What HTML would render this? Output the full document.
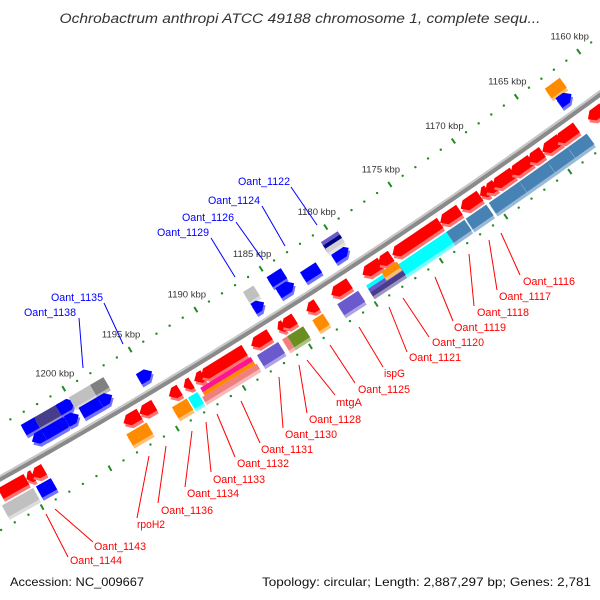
<!DOCTYPE html>
<html><head><meta charset="utf-8"><style>
html,body{margin:0;padding:0;background:#fff;width:600px;height:600px;overflow:hidden}
svg text{font-family:"Liberation Sans","DejaVu Sans",sans-serif}
</style></head><body>
<svg id="map" width="600" height="600" viewBox="0 0 600 600" xmlns="http://www.w3.org/2000/svg">
<text x="300" y="23" text-anchor="middle" font-size="13.5" font-style="italic" fill="#333" textLength="481" lengthAdjust="spacingAndGlyphs">Ochrobactrum anthropi ATCC 49188 chromosome 1, complete sequ...</text>
<g id="dots"></g>
<g id="bb"></g>
<g id="feat"></g>
<g id="lbl"></g>
<text x="10" y="586" font-size="12" fill="#111" textLength="134" lengthAdjust="spacingAndGlyphs">Accession: NC_009667</text>
<text x="591" y="586" text-anchor="end" font-size="12" fill="#111" textLength="329" lengthAdjust="spacingAndGlyphs">Topology: circular; Length: 2,887,297 bp; Genes: 2,781</text>
</svg>
<script>
// ---- data ----
const tickKbp = [1160,1165,1170,1175,1180,1185,1190,1195,1200];
const featStart = [1203.6,1202.6,1201.0,1200.0,1198.4,1186.8,1185.0,1163.2,
  1203.5,1202.6,1200.9,1199.8,1198.4,1195.5,1186.8,1184.9,1183.0,1180.7,1163.0,
  1206.9,1205.0,1204.6,1197.8,1196.6,1194.4,1193.3,1192.5,1192.0,1188.2,1186.2,1185.9,1184.0,1182.1,1179.7,1178.5,1177.4,1173.7,1172.1,1170.6,1170.2,1169.6,1168.2,1166.8,1165.7,1164.6,1162.1,
  1207.2,1204.7,1198.0,1194.6,1193.4,1188.2,1186.3,1185.9,1184.0,1182.1,1177.4,1173.7,1172.2,1170.4,1168.0,1165.8,1164.2,1160.8];
const featEnd = [1202.5,1200.7,1199.8,1198.3,1197.4,1186.0,1183.9,1162.0,
  1202.4,1200.6,1200.0,1198.3,1197.5,1194.5,1186.0,1183.7,1181.8,1179.5,1162.0,
  1205.0,1204.5,1203.7,1196.6,1195.5,1193.6,1192.7,1191.8,1188.7,1186.8,1185.7,1184.9,1183.2,1180.7,1178.3,1177.5,1173.7,1172.2,1170.6,1170.0,1169.4,1168.0,1166.6,1165.7,1164.3,1163.0,1160.9,
  1204.9,1203.6,1196.5,1193.5,1192.7,1186.6,1185.5,1184.7,1183.2,1180.5,1173.5,1172.3,1170.6,1168.0,1165.5,1164.2,1162.7,1159.8];
const featLane = ['uo','uo','uo','uo','uo','uo','uo','uo',
  'ui','ui','ui','ui','ui','ui','ui','ui','ui','ui','ui',
  'li','li','li','li','li','li','li','li','li','li','li','li','li','li','li','li','li','li','li','li','li','li','li','li','li','li','li',
  'lo','lo','lo','lo','lo','lo','lo','lo','lo','lo','lo','lo','lo','lo','lo','lo','lo','lo'];
const featColor = ['#0000ff','#483d8b','#0000ff','#c0c0c0','#808080','#c0c0c0','#0000ff','#ff8c00',
  '#0000ff','#0000ff','#0000ff','#0000ff','#0000ff','#0000ff','#0000ff','#0000ff','#0000ff','#0000ff','#0000ff',
  '#ff0000','#ff0000','#ff0000','#ff0000','#ff0000','#ff0000','#ff0000','#ff0000','#ff0000','#ff0000','#ff0000','#ff0000','#ff0000','#ff0000','#ff0000','#ff0000','#ff0000','#ff0000','#ff0000','#ff0000','#ff0000','#ff0000','#ff0000','#ff0000','#ff0000','#ff0000','#ff0000',
  '#c0c0c0','#0000ff','#ff8c00','#ff8c00','#00ffff','#6a5acd','#f08080','#6b8e23','#ff8c00','#6a5acd','#00ffff','#4682b4','#4682b4','#4682b4','#4682b4','#4682b4','#4682b4','#000080'];
const featDir = [0,0,1,0,0,0,0,0,
  -1,1,1,0,1,1,1,1,0,1,1,
  0,-1,-1,-1,-1,-1,-1,-1,-1,-1,-1,-1,-1,-1,-1,-1,-1,-1,-1,-1,-1,-1,-1,-1,-1,-1,-1,
  0,0,0,0,0,0,0,0,0,0,0,0,0,0,0,0,0,0];
// stacked multi-colour features
const stackStart = [1180.8,1180.8,1180.8,1179.9,1179.9,1179.9,1192.4,1192.4,1192.6,1178.6];
const stackEnd   = [1179.5,1179.5,1179.5,1177.4,1177.4,1177.4,1188.6,1188.6,1188.5,1177.4];
const stackR0    = [5764,5768,5772,5825,5829,5833,5823,5828,5832,5822];
const stackR1    = [5768,5772,5777,5829,5833,5838,5828,5832,5838,5829];
const stackColor = ['#6a5acd','#000080','#d0d0d0','#00ffff','#6a5acd','#483d8b','#ff1493','#ff8c00','#f08080','#ff8c00'];
// ---- geometry ----
const CX=-2826, CY=-4587, R0=5800;
const laneR = {uo:[5764,5776], ui:[5778,5790], li:[5808,5820], lo:[5825,5838]};
function phi(k){ return (58.32 + (k-1190)*0.1533)*Math.PI/180; }
function pt(k,r){ const a=phi(k); return [CX+r*Math.cos(a), CY+r*Math.sin(a)]; }
const NS='http://www.w3.org/2000/svg';
function mk(tag){ return document.createElementNS(NS,tag); }
function P(arr){ return arr.map(p=>p[0].toFixed(1)+','+p[1].toFixed(1)).join(' '); }
function shade(hex){ const n=parseInt(hex.slice(1),16); let r=n>>16,g=(n>>8)&255,b=n&255;
  r=Math.round(r+(255-r)*0.45); g=Math.round(g+(255-g)*0.45); b=Math.round(b+(255-b)*0.45); return `rgb(${r},${g},${b})`; }
// ruler dots
const dg=document.getElementById('dots');
[5754,5846].forEach(r=>{
  for(let k=1157;k<=1209;k++){
    if(k%5===0){
      const a=pt(k,r-3), b=pt(k,r+3);
      const l=mk('line'); l.setAttribute('x1',a[0]);l.setAttribute('y1',a[1]);l.setAttribute('x2',b[0]);l.setAttribute('y2',b[1]);
      l.setAttribute('stroke','#228b22');l.setAttribute('stroke-width','2');
      
      
      dg.appendChild(l);
    } else {
      const c=pt(k,r); const e=mk('circle'); e.setAttribute('cx',c[0]);e.setAttribute('cy',c[1]);e.setAttribute('r','1.2');e.setAttribute('fill','#228b22');
      
      
      dg.appendChild(e);
    }
  }
});
tickKbp.forEach(k=>{
  const c=pt(k,5754); const t=mk('text');
  t.setAttribute('x',c[0]-9);t.setAttribute('y',c[1]-12);t.setAttribute('text-anchor','middle');
  t.setAttribute('font-size','9.5');t.setAttribute('fill','#333');
  
  
  t.textContent=k+' kbp'; dg.appendChild(t);
});
// backbone
const bb=document.getElementById('bb');
function arc(r,w,col){ const pts=[]; for(let k=1212;k>=1154;k-=0.5) pts.push(pt(k,r));
  const pl=mk('polyline'); pl.setAttribute('points',P(pts)); pl.setAttribute('fill','none'); pl.setAttribute('stroke',col); pl.setAttribute('stroke-width',w);
  
  
  bb.appendChild(pl); }
arc(R0+0.5,6,'#8a8a8a'); arc(R0-1.5,2,'#c8c8c8');
// features
const fg=document.getElementById('feat');
function shape(k1,k2,r0,r1,dir){
  const hk=Math.min(0.4,(k1-k2)*0.6), rm=(r0+r1)/2;
  if(dir===1) return [pt(k1,r0),pt(k2+hk,r0),pt(k2,rm),pt(k2+hk,r1),pt(k1,r1)];
  if(dir===-1) return [pt(k2,r0),pt(k1-hk,r0),pt(k1,rm),pt(k1-hk,r1),pt(k2,r1)];
  return [pt(k1,r0),pt(k2,r0),pt(k2,r1),pt(k1,r1)];
}
function drawFeat(k1,k2,r0,r1,col,dir,name){
  const s=shape(k1,k2,r0,r1,dir);
  const sh=mk('polygon'); sh.setAttribute('points',P(s.map(p=>[p[0]+1.5,p[1]+3]))); sh.setAttribute('fill',shade(col));
  
  
  fg.appendChild(sh);
  const pg=mk('polygon'); pg.setAttribute('points',P(s)); pg.setAttribute('fill',col);
  
  
  fg.appendChild(pg);
}
featStart.forEach((k1,i)=>{ const lr=laneR[featLane[i]]; drawFeat(k1,featEnd[i],lr[0],lr[1],featColor[i],featDir[i],'gene-feature'); });
stackStart.forEach((k1,i)=>{ drawFeat(k1,stackEnd[i],stackR0[i],stackR1[i],stackColor[i],0,'gene-feature-part'); });
// labels
const labText=['Oant_1122','Oant_1124','Oant_1126','Oant_1129','Oant_1135','Oant_1138',
 'Oant_1116','Oant_1117','Oant_1118','Oant_1119','Oant_1120','Oant_1121','ispG','Oant_1125','mtgA','Oant_1128','Oant_1130','Oant_1131','Oant_1132','Oant_1133','Oant_1134','Oant_1136','rpoH2','Oant_1143','Oant_1144'];
const labX=[238,208,182,157,51,24, 523,499,477,454,432,409,384,358,336,309,285,261,237,213,187,161,137,94,70];
const labY=[181,200,217,232,297,312, 281,296,312,327,342,357,373,389,402,419,434,449,463,479,493,510,524,546,560];
const lineX1=[291,262,236,211,104,79, 501,489,469,435,403,389,359,330,307,299,279,241,217,206,192,166,149,55,46];
const lineY1=[187,206,222,238,303,318, 233,240,254,277,298,307,327,345,360,365,377,401,414,422,431,446,456,509,514];
const lineX2=[317,285,263,235,123,83, 520,497,474,453,429,407,383,355,335,307,283,260,235,211,185,158,137,93,68];
const lineY2=[225,246,260,277,344,368, 275,290,306,321,337,352,367,383,395,413,428,443,457,472,487,503,518,542,557];
const lg=document.getElementById('lbl');
labText.forEach((s,i)=>{
  const col=i<6?'#0000ff':'#ff0000';
  const l=mk('line'); l.setAttribute('x1',lineX1[i]);l.setAttribute('y1',lineY1[i]);l.setAttribute('x2',lineX2[i]);l.setAttribute('y2',lineY2[i]);
  l.setAttribute('stroke',col);l.setAttribute('stroke-width','1');
  
  
  lg.appendChild(l);
  const t=mk('text'); t.setAttribute('x',labX[i]); t.setAttribute('y',labY[i]+4); t.setAttribute('font-size','11'); t.setAttribute('fill',col);
  const w= s.length===9?52:(s==='rpoH2'?28:(s==='mtgA'?26:21));
  t.setAttribute('textLength',w); t.setAttribute('lengthAdjust','spacingAndGlyphs');
  
  
  t.textContent=s; lg.appendChild(t);
});
</script>
</body></html>
